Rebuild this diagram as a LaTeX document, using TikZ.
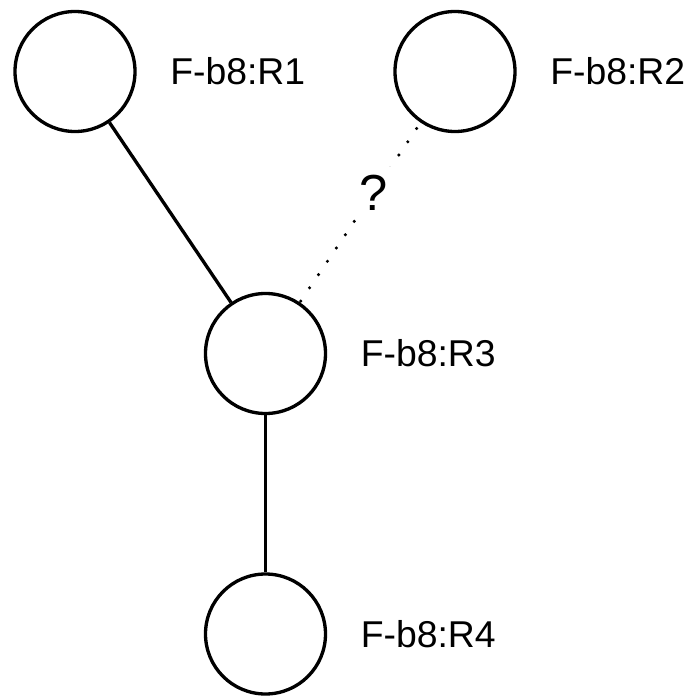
\documentclass[tikz,border=0pt]{standalone}
\usepackage{fontspec}
\setmainfont{Liberation Sans}
\usetikzlibrary{positioning}

\begin{document}
\begin{tikzpicture}[x=0.75pt, y=-0.75pt,
    ring/.style={circle, draw, line width=2.5pt, minimum size=90pt,
                 inner sep=0pt},
    tag/.style={font=\fontsize{28}{34}\selectfont, inner sep=0pt},
    link/.style={line width=2.5pt},
    maybe/.style={line width=2.6pt, line cap=round,
                  dash pattern=on 0pt off 12pt, dash phase=6.75pt}]
  \useasboundingbox (0,0) rectangle (695,696);
  \node[ring] (r1) at (75,71.5) {};
  \node[ring] (r2) at (455,71.5) {};
  \node[ring] (r3) at (265.5,353.5) {};
  \node[ring] (r4) at (265.5,634) {};
  \node[tag, right=25pt of r1] (t1) {F-b8:R1};
  \node[tag, right=25pt of r2] (t2) {F-b8:R2};
  \node[tag, right=25pt of r3] (t3) {F-b8:R3};
  \node[tag, right=25pt of r4] (t4) {F-b8:R4};
  \draw[link] (r1) -- (r3);
  \draw[link] (r3) -- (r4);
  \draw[maybe] (r2) -- node[pos=0.39, fill=white, inner sep=6pt,
    font=\fontsize{38}{45}\selectfont] (q) {?} (r3);
\end{tikzpicture}
\end{document}
